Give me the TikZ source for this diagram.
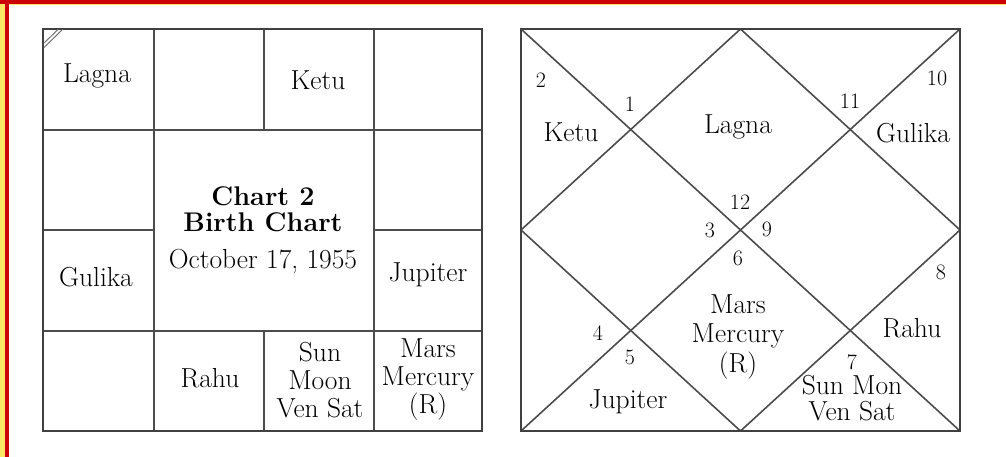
\documentclass[tikz,border=0pt]{standalone}
\usepackage{fontspec}
\setmainfont{Latin Modern Roman}
\begin{document}
\begin{tikzpicture}[x=1pt,y=-1pt,
  gridline/.style={draw=black!70,line width=1.6pt},
  outerline/.style={draw=black!75,line width=2pt},
  lbl/.style={inner sep=0pt,text=black,font=\fontsize{27.5}{28}\selectfont,align=center},
  num/.style={inner sep=0pt,text=black,font=\fontsize{22}{24}\selectfont},
  ttl/.style={inner sep=0pt,text=black,font=\fontsize{27}{26}\selectfont\bfseries,align=center}]
\useasboundingbox (0,0) rectangle (1006,457);
\fill[white] (0,0) rectangle (1006,457);
% frame
\fill[yellow!75!orange!60] (0,0) rectangle (4.5,457);
\fill[red!80!black] (4.5,0) rectangle (8.5,457);
\fill[red!80!black] (0,0) rectangle (1006,4);
\fill[yellow!75!orange!60] (8.5,4) rectangle (1006,5.3);
% ---------- left chart ----------
\draw[gridline] (154,29) -- (154,431);
\draw[gridline] (374,29) -- (374,431);
\draw[gridline] (264,29) -- (264,130);
\draw[gridline] (264,331) -- (264,431);
\draw[gridline] (43,130) -- (482,130);
\draw[gridline] (43,331) -- (482,331);
\draw[gridline] (43,230) -- (154,230);
\draw[gridline] (374,230) -- (482,230);
\draw[outerline] (43,29) rectangle (482,431);
\draw[black!55,line width=1pt] (44,43) -- (58,29.5);
\draw[black!55,line width=1pt] (44,47.5) -- (62.5,29.5);
\node[lbl] (lLagna) at (97,76) {Lagna};
\node[lbl] (lKetu) at (318,80) {Ketu};
\node[ttl] (lTitle) at (263,209) {Chart 2\\Birth Chart};
\node[lbl] (lDate) at (263,262) {October 17, 1955};
\node[lbl] (lGulika) at (96,277) {Gulika};
\node[lbl] (lJupiter) at (428,275) {Jupiter};
\node[lbl] (lRahu) at (210,378) {Rahu};
\node[lbl] (lSun) at (320,380) {Sun\\Moon\\Ven Sat};
\node[lbl] (lMars) at (428,380) {Mars\\Mercury\\(R)};
% ---------- right chart ----------
\draw[gridline] (521,29) -- (960,431);
\draw[gridline] (960,29) -- (521,431);
\draw[gridline] (740.5,29) -- (960,230) -- (740.5,431) -- (521,230) -- cycle;
\draw[outerline] (521,29) rectangle (960,431);
\node[num] (n2) at (541,80) {2};
\node[num] (n1) at (630,104) {1};
\node[lbl] (rKetu) at (571,132) {Ketu};
\node[lbl] (rLagna) at (738,127) {Lagna};
\node[num] (n11) at (850,101) {11};
\node[num] (n10) at (937,78) {10};
\node[lbl] (rGulika) at (913,133) {Gulika};
\node[num] (n12) at (740,202) {12};
\node[num] (n3) at (710,230) {3};
\node[num] (n9) at (767,229) {9};
\node[num] (n6) at (738,258) {6};
\node[num] (n8) at (941,272) {8};
\node[num] (n4) at (598,333) {4};
\node[num] (n5) at (630,357) {5};
\node[lbl,font=\fontsize{27.5}{29.5}\selectfont] (rMars) at (738,337) {Mars\\Mercury\\(R)};
\node[lbl] (rRahu) at (912,328) {Rahu};
\node[num] (n7) at (852,362) {7};
\node[lbl,font=\fontsize{27.5}{26}\selectfont] (rSun) at (852,398) {Sun Mon\\Ven Sat};
\node[lbl] (rJupiter) at (628,402) {Jupiter};
\end{tikzpicture}
\end{document}
